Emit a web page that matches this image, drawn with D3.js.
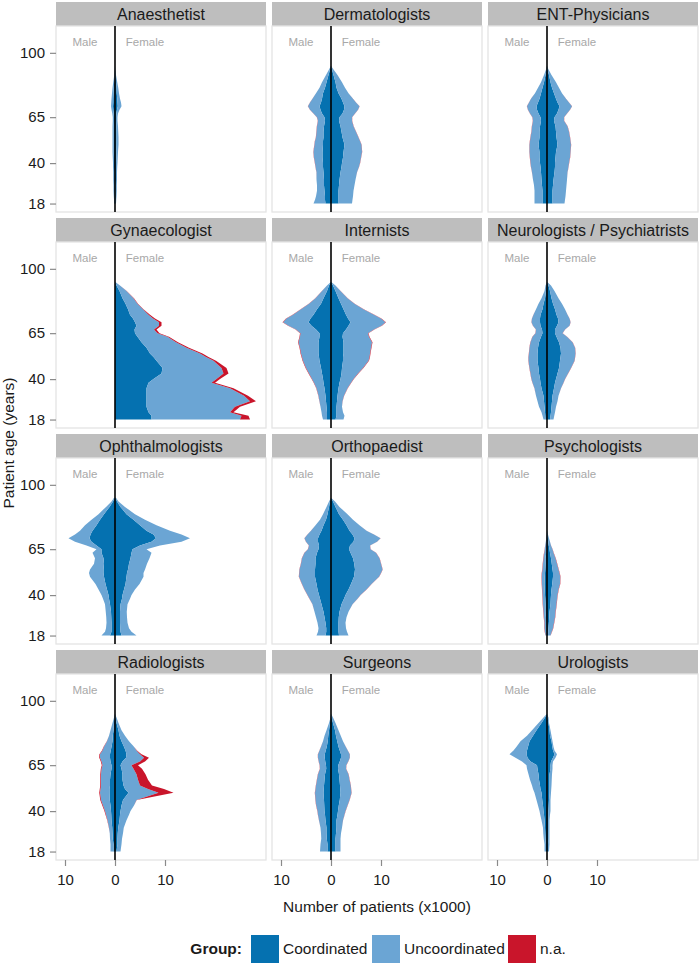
<!DOCTYPE html>
<html><head><meta charset="utf-8">
<script src="https://cdn.jsdelivr.net/npm/d3@7"></script>
<style>body{margin:0;background:#fff;} text{font-family:Arial,"Liberation Sans",Helvetica,sans-serif;}</style>
</head><body><svg id="chart" width="700" height="964"></svg>
<script>
// ---------- DATA (thousands of patients) ----------
const ages = [18,20,22,25,28,31,35,38,40,43,46,50,52,54,57,60,63,65,67,69,71,73,75,78,81,84,88,91,93];
const specialties = ["Anaesthetist","Dermatologists","ENT-Physicians","Gynaecologist","Internists","Neurologists / Psychiatrists","Ophthalmologists","Orthopaedist","Psychologists","Radiologists","Surgeons","Urologists"];
const groups = ["Coordinated","Uncoordinated","n.a."];
const xTicks = [-10,0,10];
const yTicks = [18,40,65,100];
const none = [0,0,0,0,0,0,0,0,0,0,0,0,0,0,0,0,0,0,0,0,0,0,0,0,0,0,0,0,0];
const thinNA = [0,0,0,0,0,0,0.02,0.03,0.04,0.04,0.04,0.04,0.04,0.04,0.04,0.04,0.04,0.04,0.03,0.03,0.03,0.02,0.02,0,0,0,0,0,0];

const anaesMaleCoord   = [0.1,0.1,0.1,0.15,0.15,0.15,0.15,0.2,0.2,0.2,0.25,0.25,0.25,0.25,0.25,0.25,0.2,0.2,0.25,0.35,0.4,0.35,0.35,0.3,0.25,0.15,0.05,0,0];
const anaesMaleUncoord = [0.1,0.1,0.15,0.15,0.15,0.2,0.2,0.2,0.2,0.25,0.25,0.25,0.25,0.25,0.25,0.25,0.25,0.25,0.3,0.35,0.4,0.4,0.35,0.3,0.25,0.2,0.1,0.05,0];
const anaesFemCoord    = [0.1,0.1,0.15,0.15,0.15,0.2,0.2,0.2,0.2,0.25,0.25,0.3,0.3,0.3,0.3,0.25,0.2,0.2,0.25,0.4,0.55,0.5,0.45,0.35,0.3,0.2,0.1,0,0];
const anaesFemUncoord  = [0.1,0.15,0.15,0.2,0.2,0.2,0.2,0.25,0.3,0.3,0.35,0.4,0.4,0.4,0.35,0.35,0.3,0.3,0.35,0.5,0.75,0.7,0.55,0.45,0.35,0.25,0.1,0.05,0];

const dermMaleCoord   = [1.1,1.2,1.2,1.3,1.4,1.4,1.5,1.6,1.6,1.7,1.7,1.6,1.6,1.5,1.5,1.4,1.2,1.3,1.8,2.1,2.3,2.0,1.8,1.6,1.2,0.9,0.5,0.2,0];
const dermMaleUncoord = [2.4,2.0,1.8,1.5,1.4,1.5,1.4,1.5,1.6,1.7,1.8,1.7,1.6,1.5,1.4,1.4,1.4,1.5,1.7,2.1,2.3,2.2,1.9,1.4,1.1,0.9,0.5,0.2,0];
const dermFemCoord    = [1.5,1.5,1.5,1.5,1.6,1.7,1.9,2.1,2.2,2.4,2.5,2.7,2.5,2.3,2.1,1.9,1.6,1.7,2.3,2.6,2.7,2.4,2.1,1.5,1.1,0.9,0.5,0.2,0];
const dermFemUncoord  = [2.7,2.8,2.9,3.0,3.1,3.2,3.3,3.5,3.6,3.6,3.7,3.4,3.3,3.2,2.9,2.6,2.6,2.5,2.5,2.8,3.0,2.6,2.3,2.0,1.7,1.3,0.8,0.3,0];

const entMaleCoord   = [0.9,0.9,0.9,0.9,1.0,1.1,1.2,1.3,1.4,1.5,1.5,1.7,1.6,1.5,1.5,1.4,1.2,1.3,1.7,2.0,2.1,1.8,1.5,1.2,0.9,0.6,0.3,0.1,0];
const entMaleUncoord = [1.6,1.6,1.6,1.6,1.6,1.7,1.8,1.9,1.9,1.9,2.0,1.8,1.8,1.8,1.6,1.6,1.6,1.6,1.7,1.8,1.9,1.8,1.7,1.2,0.9,0.6,0.3,0.1,0];
const entFemCoord    = [1.1,1.1,1.1,1.1,1.2,1.3,1.5,1.6,1.6,1.7,1.8,2.1,2.0,1.9,1.8,1.7,1.4,1.5,2.0,2.3,2.5,2.1,1.8,1.4,1.0,0.7,0.4,0.1,0];
const entFemUncoord  = [2.4,2.5,2.6,2.7,2.7,2.7,2.6,2.7,2.8,2.9,2.9,2.7,2.7,2.7,2.6,2.4,2.0,1.9,2.0,2.3,2.5,2.3,2.0,1.6,1.4,1.1,0.5,0.2,0];

const gynFemCoord   = [7.3,7.3,6.7,6.3,6.3,6.3,6.3,6.7,7.7,9.3,9.5,8.3,7.7,7.0,6.3,5.3,4.5,4.0,3.9,4.3,4.0,3.6,3.0,2.6,2.1,1.5,0.9,0.3,0];
const gynFemUncoord = [17.7,18.0,16.3,17.7,20.7,19.5,16.7,12.6,12.6,12.4,11.8,11.4,10.5,10.0,8.0,6.9,6.0,4.5,3.9,4.5,4.8,4.0,3.7,3.0,2.4,2.2,1.4,0.7,0];
const gynFemNA      = [2.0,1.4,0.7,1.0,1.2,0.8,0.7,0.7,0.7,1.0,1.0,0.5,0.5,0.5,0.5,0.4,0.3,0.4,0.5,0.5,0.5,0.4,0.3,0.1,0.1,0.1,0.05,0,0];

const intMaleCoord   = [0.8,0.8,0.8,0.9,1.0,1.1,1.3,1.5,1.6,1.8,2.0,2.3,2.4,2.5,2.5,2.5,2.3,2.3,3.0,3.9,4.5,4.1,3.5,2.8,2.0,1.5,0.8,0.4,0];
const intMaleUncoord = [0.8,1.0,1.1,1.2,1.3,1.4,1.6,1.9,2.2,2.6,3.0,3.3,3.4,3.5,3.7,4.0,3.9,3.8,4.0,4.6,5.1,4.8,4.1,3.2,2.4,1.6,1.0,0.4,0];
const intFemCoord    = [0.9,1.1,1.1,1.1,1.2,1.3,1.5,1.7,1.9,2.1,2.2,2.4,2.4,2.5,2.5,2.5,2.3,2.4,3.0,3.5,3.9,3.4,3.0,2.5,2.0,1.5,0.9,0.4,0];
const intFemUncoord  = [1.6,1.6,1.3,1.1,1.1,1.3,1.8,2.3,2.6,3.3,4.2,5.1,5.3,5.3,5.5,5.7,5.3,5.0,5.6,6.6,7.0,6.6,5.6,4.0,2.7,1.8,1.0,0.5,0];
const intNA          = [0,0,0,0,0.03,0.04,0.06,0.07,0.08,0.1,0.1,0.1,0.1,0.1,0.1,0.1,0.1,0.1,0.1,0.1,0.1,0.1,0.1,0.08,0.06,0.05,0.03,0,0];

const neuMaleCoord   = [0.3,0.35,0.4,0.5,0.6,0.7,1.1,1.3,1.4,1.6,1.7,1.9,1.9,1.9,1.8,1.6,1.2,0.9,1.0,1.3,1.4,1.4,1.3,0.9,0.7,0.4,0.2,0.1,0];
const neuMaleUncoord = [0.4,0.55,0.7,1.1,1.3,1.5,1.4,1.6,1.7,1.7,1.8,1.8,1.8,1.7,1.7,1.7,1.7,1.4,1.2,1.5,1.7,1.6,1.4,1.3,1.0,0.7,0.3,0.2,0];
const neuFemCoord    = [0.6,0.7,0.8,0.9,1.0,1.1,1.4,1.6,1.8,2.1,2.4,2.6,2.7,2.8,2.7,2.4,1.9,1.6,1.6,2.0,2.3,2.2,1.9,1.6,1.2,0.9,0.6,0.3,0];
const neuFemUncoord  = [0.7,0.75,0.8,0.9,1.1,1.2,1.4,1.7,1.8,2.1,2.4,2.9,2.9,2.9,2.9,2.7,2.1,1.5,2.0,2.5,2.4,2.3,2.2,2.0,1.8,1.4,0.9,0.5,0];

const ophMaleCoord   = [1.0,0.7,0.7,0.7,0.75,0.8,1.0,1.2,1.3,1.6,1.9,2.2,2.3,2.3,2.2,2.3,2.7,2.7,3.7,4.7,5.1,4.9,4.5,3.7,3.0,2.2,1.1,0.4,0.1];
const ophMaleUncoord = [1.7,1.3,1.1,1.0,1.0,1.05,1.0,1.2,1.4,1.7,2.0,2.8,2.9,2.7,2.0,1.7,1.8,1.0,2.0,3.3,4.2,3.1,2.5,2.3,1.7,1.1,0.7,0.3,0.1];
const ophFemCoord    = [1.3,1.1,1.05,1.0,1.0,1.0,1.1,1.4,1.5,1.8,2.1,2.3,2.4,2.6,2.8,3.1,3.3,3.5,5.0,7.3,8.2,7.7,6.3,5.0,3.7,2.3,1.1,0.4,0.1];
const ophFemUncoord  = [3.0,2.2,1.75,1.5,1.4,1.35,1.4,1.6,1.8,2.2,2.8,3.4,3.3,3.4,3.6,3.8,4.0,2.8,4.0,6.0,6.8,5.6,4.7,3.3,2.3,1.7,0.9,0.3,0.1];

const ortMaleCoord   = [1.1,0.95,0.95,1.1,1.3,1.5,1.9,2.2,2.4,2.7,2.9,3.2,3.2,3.2,3.1,3.1,2.8,2.5,2.4,2.6,2.6,2.3,1.9,1.5,1.0,0.7,0.4,0.2,0];
const ortMaleUncoord = [1.8,1.65,1.55,1.6,1.7,1.8,1.8,2.1,2.3,2.6,2.9,3.2,3.15,3.1,2.9,2.7,2.5,2.1,2.0,2.4,2.7,2.4,2.1,1.6,1.2,0.9,0.5,0.2,0];
const ortFemCoord    = [1.6,1.5,1.5,1.5,1.55,1.7,2.1,2.6,2.9,3.5,4.0,4.6,4.7,4.8,4.65,4.4,3.9,3.6,3.8,4.5,4.7,4.3,3.7,3.1,2.4,1.6,0.9,0.4,0];
const ortFemUncoord  = [1.9,1.7,1.5,1.4,1.55,1.8,2.2,2.7,3.0,3.6,4.1,5.0,5.3,5.5,5.35,5.3,5.1,4.3,4.0,4.7,5.2,4.3,3.4,2.6,2.0,1.7,0.8,0.4,0];

const psyMaleCoord   = [0.1,0.1,0.1,0.15,0.2,0.3,0.3,0.35,0.4,0.45,0.5,0.45,0.4,0.35,0.3,0.3,0.15,0.1,0.1,0.05,0,0,0,0,0,0,0,0,0];
const psyMaleUncoord = [0.2,0.3,0.4,0.35,0.4,0.4,0.5,0.5,0.5,0.5,0.5,0.6,0.6,0.55,0.5,0.4,0.4,0.35,0.25,0.2,0.15,0.05,0,0,0,0,0,0,0];
const psyFemCoord    = [0.2,0.25,0.3,0.38,0.45,0.5,0.7,0.75,0.8,0.9,1.05,1.2,1.2,1.1,0.95,0.8,0.6,0.5,0.35,0.25,0.15,0.05,0,0,0,0,0,0,0];
const psyFemUncoord  = [0.5,0.7,0.9,1.02,1.15,1.2,1.2,1.25,1.3,1.4,1.55,1.45,1.3,1.2,1.05,0.9,0.7,0.6,0.45,0.35,0.25,0.15,0,0,0,0,0,0,0];
const psyNA          = [0.03,0.06,0.06,0.06,0.06,0.06,0.06,0.06,0.06,0.06,0.06,0.06,0.06,0.06,0.06,0.06,0.05,0.03,0.02,0,0,0,0,0,0,0,0,0,0];

const radMaleCoord   = [0.3,0.3,0.3,0.45,0.5,0.55,0.7,0.75,0.8,0.9,1.05,1.1,1.1,1.0,1.0,0.9,0.7,0.7,0.9,1.0,1.0,0.85,0.7,0.5,0.45,0.3,0.2,0.1,0];
const radMaleUncoord = [0.6,0.6,0.6,0.55,0.55,0.65,0.8,1.05,1.2,1.5,1.75,1.9,1.8,1.8,1.8,1.9,2.0,1.8,1.8,2.0,2.0,1.65,1.5,1.1,0.75,0.6,0.3,0.1,0];
const radMaleNA      = [0,0,0,0,0,0.03,0.06,0.1,0.12,0.14,0.15,0.15,0.15,0.15,0.14,0.14,0.14,0.14,0.14,0.15,0.12,0.1,0.08,0.04,0,0,0,0,0];
const radFemCoord    = [0.3,0.4,0.5,0.5,0.55,0.65,0.9,1.0,1.1,1.3,1.6,2.7,2.0,1.7,1.5,1.5,1.3,1.1,1.5,2.2,2.3,2.1,1.8,1.3,0.9,0.7,0.3,0.1,0];
const radFemUncoord  = [0.8,0.8,0.8,0.9,1.05,1.1,1.4,1.8,2.0,2.5,2.7,6.0,4.6,3.3,3.1,2.8,2.4,2.2,3.5,3.6,2.7,2.2,2.0,1.5,1.1,0.6,0.4,0.2,0];
const radFemNA       = [0,0,0,0,0,0,0,0,0,0,0.05,3.0,3.2,2.4,2.0,1.8,1.7,1.3,1.0,1.0,0.3,0.1,0,0,0,0,0,0,0];

const surMaleCoord   = [0.7,0.7,0.7,0.85,0.9,0.9,1.1,1.2,1.3,1.35,1.4,1.5,1.45,1.4,1.3,1.2,0.95,1.0,1.15,1.25,1.25,1.05,0.85,0.65,0.55,0.4,0.2,0.05,0];
const surMaleUncoord = [1.5,1.45,1.4,1.1,1.1,1.2,1.3,1.4,1.4,1.6,1.7,1.7,1.65,1.6,1.5,1.4,1.25,1.25,1.3,1.35,1.35,1.25,1.15,0.95,0.75,0.5,0.2,0.05,0];
const surFemCoord    = [0.9,0.9,0.9,0.9,1.0,1.1,1.1,1.3,1.4,1.55,1.75,1.9,1.85,1.8,1.7,1.6,1.4,1.45,1.75,2.0,2.0,1.75,1.5,1.25,1.0,0.8,0.4,0.1,0];
const surFemUncoord  = [1.0,1.0,1.0,1.0,1.0,1.1,1.3,1.4,1.5,1.75,1.95,2.2,2.15,2.15,2.0,1.9,1.6,1.6,1.7,1.75,1.75,1.6,1.45,1.15,0.95,0.7,0.5,0.3,0];

const uroMaleCoord   = [0.2,0.2,0.2,0.3,0.35,0.4,0.5,0.6,0.7,0.8,0.95,1.1,1.3,1.4,1.6,1.7,1.9,2.0,3.3,3.9,4.1,4.0,3.8,3.5,2.8,2.1,1.1,0.4,0];
const uroMaleUncoord = [0.3,0.3,0.3,0.35,0.4,0.4,0.6,0.75,0.8,1.0,1.15,1.4,1.5,1.6,1.8,2.0,2.1,2.1,1.7,2.4,3.4,2.7,2.3,1.8,1.2,0.9,0.6,0.3,0];
const uroFemCoord    = [0.2,0.2,0.2,0.3,0.3,0.3,0.3,0.3,0.3,0.35,0.4,0.5,0.5,0.5,0.5,0.5,0.7,0.7,0.8,1.2,1.5,1.2,1.05,0.9,0.6,0.5,0.3,0.1,0];
const uroFemUncoord  = [0.2,0.25,0.3,0.2,0.2,0.2,0.2,0.3,0.4,0.35,0.3,0.3,0.35,0.4,0.45,0.5,0.4,0.4,0.4,0.5,0.5,0.3,0.25,0.2,0.3,0.2,0.1,0.2,0];

// per panel: [coordinated, uncoordinated, n.a.] for each sex
const panels = [
  {male:[anaesMaleCoord,anaesMaleUncoord,none], female:[anaesFemCoord,anaesFemUncoord,none]},
  {male:[dermMaleCoord,dermMaleUncoord,thinNA], female:[dermFemCoord,dermFemUncoord,thinNA]},
  {male:[entMaleCoord,entMaleUncoord,thinNA], female:[entFemCoord,entFemUncoord,thinNA]},
  {male:[none,none,none], female:[gynFemCoord,gynFemUncoord,gynFemNA]},
  {male:[intMaleCoord,intMaleUncoord,intNA], female:[intFemCoord,intFemUncoord,intNA]},
  {male:[neuMaleCoord,neuMaleUncoord,thinNA], female:[neuFemCoord,neuFemUncoord,thinNA]},
  {male:[ophMaleCoord,ophMaleUncoord,none], female:[ophFemCoord,ophFemUncoord,none]},
  {male:[ortMaleCoord,ortMaleUncoord,thinNA], female:[ortFemCoord,ortFemUncoord,thinNA]},
  {male:[psyMaleCoord,psyMaleUncoord,psyNA], female:[psyFemCoord,psyFemUncoord,psyNA]},
  {male:[radMaleCoord,radMaleUncoord,radMaleNA], female:[radFemCoord,radFemUncoord,radFemNA]},
  {male:[surMaleCoord,surMaleUncoord,thinNA], female:[surFemCoord,surFemUncoord,thinNA]},
  {male:[uroMaleCoord,uroMaleUncoord,none], female:[uroFemCoord,uroFemUncoord,none]}
];
panels.forEach((p,i)=>p.name = specialties[i]);

const colors = {"Coordinated":"#0571b0","Uncoordinated":"#6ba5d4","n.a.":"#c9152b"};

// ---------- LAYOUT ----------
const svg = d3.select("#chart");
svg.append("rect").attr("width",700).attr("height",964).attr("fill","#fff");
const W = 210, SH = 24, PH = 186;
const colX = [56,272,488], rowY = [2,218,434,650];
const x = d3.scaleLinear().domain([-11.8,30.2]).range([0,W]);
const y = d3.scaleLinear().domain([13.4,114.6]).range([PH,0]);

panels.forEach((p,i)=>{
  const r = Math.floor(i/3), c = i%3;
  const g = svg.append("g").attr("transform",`translate(${colX[c]},${rowY[r]})`);
  g.append("rect").attr("width",W).attr("height",SH).attr("fill","#bebebe");
  g.append("text").attr("x",W/2).attr("y",SH/2).attr("dy","0.36em")
    .attr("text-anchor","middle").attr("font-size",16).attr("fill","#1a1a1a").text(p.name);
  const pg = g.append("g").attr("transform",`translate(0,${SH})`);
  pg.append("rect").attr("width",W).attr("height",PH).attr("fill","#fff");
  const cid = "clip"+i;
  pg.append("clipPath").attr("id",cid).append("rect").attr("width",W).attr("height",PH);
  const dg = pg.append("g").attr("clip-path",`url(#${cid})`);

  ["male","female"].forEach(sex=>{
    const sign = sex==="male" ? -1 : 1;
    let cum = ages.map(()=>0);
    p[sex].forEach((vals,gi)=>{
      const lower = cum;
      const upper = cum.map((v,k)=>v+vals[k]);
      cum = upper;
      if (d3.max(vals) <= 0) return;
      const data = ages.map((a,k)=>({a, lo:lower[k], hi:upper[k]}));
      dg.append("path").datum(data)
        .attr("d", d3.area().y(d=>y(d.a)).x0(d=>x(sign*d.lo)).x1(d=>x(sign*d.hi)))
        .attr("fill", colors[groups[gi]]);
    });
  });

  pg.append("rect").attr("width",W).attr("height",PH).attr("fill","none")
    .attr("stroke","#e4e4e4").attr("stroke-width",1.3);

  pg.append("line").attr("x1",x(0)).attr("x2",x(0)).attr("y1",0).attr("y2",PH)
    .attr("stroke","#000").attr("stroke-width",1.6);

  pg.append("text").attr("x",x(-6)).attr("y",y(106)).attr("dy","0.35em").attr("text-anchor","middle")
    .attr("font-size",11.5).attr("fill","#a8a8a8").text("Male");
  pg.append("text").attr("x",x(6)).attr("y",y(106)).attr("dy","0.35em").attr("text-anchor","middle")
    .attr("font-size",11.5).attr("fill","#a8a8a8").text("Female");

  if (c === 0) {
    const ya = pg.append("g").call(d3.axisLeft(y).tickValues(yTicks).tickSize(6).tickPadding(5));
    ya.select(".domain").remove();
    ya.selectAll(".tick line").attr("stroke","#8a8a8a").attr("stroke-width",1.2);
    ya.selectAll(".tick text").attr("font-size",15).attr("fill","#1a1a1a").attr("font-family","Arial,'Liberation Sans',sans-serif");
  }
  if (r === 3) {
    const xa = pg.append("g").attr("transform",`translate(0,${PH})`)
      .call(d3.axisBottom(x).tickValues(xTicks).tickFormat(d=>Math.abs(d)).tickSize(6).tickPadding(8));
    xa.select(".domain").remove();
    xa.selectAll(".tick line").attr("stroke","#8a8a8a").attr("stroke-width",1.2);
    xa.selectAll(".tick text").attr("font-size",15).attr("fill","#1a1a1a").attr("font-family","Arial,'Liberation Sans',sans-serif");
  }
});

// axis titles
svg.append("text").attr("x",377).attr("y",907).attr("dy","0.35em").attr("text-anchor","middle")
  .attr("font-size",15.5).attr("fill","#1a1a1a").text("Number of patients (x1000)");
svg.append("text").attr("transform","translate(9,443) rotate(-90)").attr("dy","0.35em")
  .attr("text-anchor","middle").attr("font-size",15.5).attr("fill","#1a1a1a").text("Patient age (years)");

// legend
const ly = 949;
svg.append("text").attr("x",242).attr("y",ly).attr("dy","0.35em").attr("text-anchor","end")
  .attr("font-size",15.5).attr("font-weight","bold").attr("fill","#1a1a1a").text("Group:");
const legendX = [{box:251,text:283},{box:372,text:404},{box:508,text:540}];
groups.forEach((gname,i)=>{
  svg.append("rect").attr("x",legendX[i].box).attr("y",ly-14).attr("width",28).attr("height",28)
    .attr("fill",colors[gname]);
  svg.append("text").attr("x",legendX[i].text).attr("y",ly).attr("dy","0.35em")
    .attr("font-size",15.5).attr("fill","#1a1a1a").text(gname);
});
</script></body></html>
